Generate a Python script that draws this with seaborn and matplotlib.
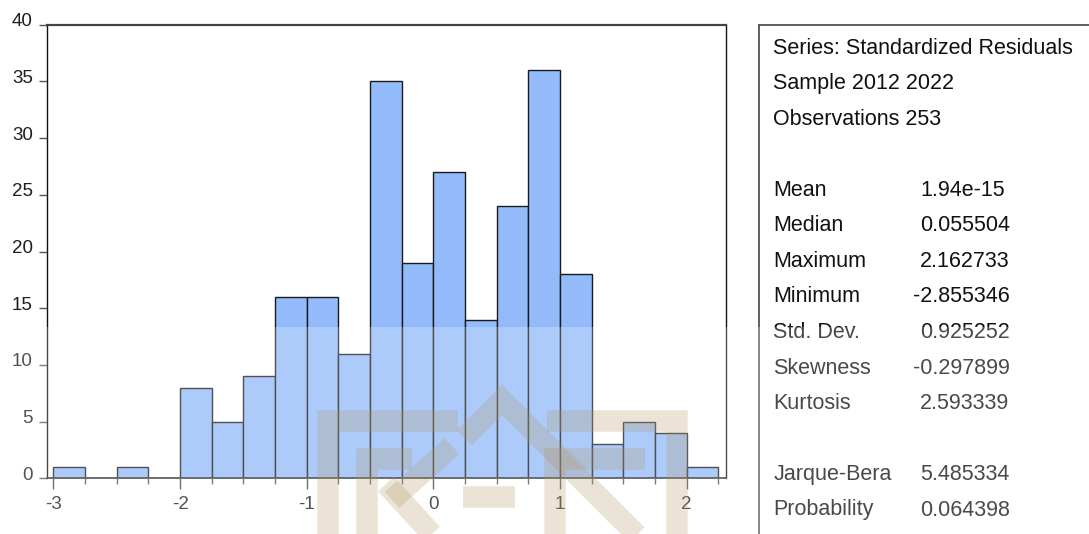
import numpy as np
import matplotlib
matplotlib.use("Agg")
import matplotlib.pyplot as plt
import seaborn as sns
from matplotlib.patches import Rectangle
from matplotlib.lines import Line2D
from matplotlib.transforms import Affine2D, ScaledTranslation

# ---------------- data ----------------
bin_edges = [-3.0, -2.75, -2.5, -2.25, -2.0, -1.75, -1.5, -1.25, -1.0, -0.75, -0.5,
             -0.25, 0.0, 0.25, 0.5, 0.75, 1.0, 1.25, 1.5, 1.75, 2.0, 2.25]
counts = [1, 0, 1, 0, 8, 5, 9, 16, 16, 11, 35, 19, 27, 14, 24, 36, 18, 3, 5, 4, 1]
y_ticks = [0, 5, 10, 15, 20, 25, 30, 35, 40]
x_ticks = [-3, -2, -1, 0, 1, 2]

header_lines = ["Series: Standardized Residuals", "Sample 2012 2022", "Observations 253"]
stat_names = ["Mean", "Median", "Maximum", "Minimum", "Std. Dev.", "Skewness", "Kurtosis"]
stat_values = ["1.94e-15", "0.055504", "2.162733", "-2.855346", "0.925252", "-0.297899", "2.593339"]
test_names = ["Jarque-Bera", "Probability"]
test_values = ["5.485334", "0.064398"]

# ---------------- figure ----------------
W, H = 1089, 534
sns.set_style("white")
plt.rcParams['font.family'] = ['Liberation Sans', 'DejaVu Sans']

fig = plt.figure(figsize=(W / 100, H / 100), dpi=100)
ax_l, ax_r, ax_t, ax_b = 46.7, 725.7, 24.7, 478.3
ax = fig.add_axes([ax_l / W, 1 - ax_b / H, (ax_r - ax_l) / W, (ax_b - ax_t) / H])

edges = np.array(bin_edges)
centers = (edges[:-1] + edges[1:]) / 2
sns.histplot(x=centers, weights=counts, bins=bin_edges, color="#93BBFB",
             edgecolor="#1a1a1a", linewidth=1.0, alpha=1.0, ax=ax)

ax.set_xlim(-3.053, 2.308)
ax.set_ylim(0, 40)
ax.set_xlabel("")
ax.set_ylabel("")
ax.set_yticks(y_ticks)
ax.set_yticklabels([str(v) for v in y_ticks])
ax.set_xticks(x_ticks)
ax.set_xticklabels([str(v) for v in x_ticks])
ax.set_xticks(bin_edges, minor=True)
ax.tick_params(axis="y", which="major", direction="out", length=6, width=1.0,
               color="#555555", labelsize=13.5, labelcolor="#1e1e1e", pad=4.0, left=True)
ax.tick_params(axis="x", which="major", direction="out", length=8, width=1.0,
               color="#444444", labelsize=13.5, labelcolor="#1e1e1e", pad=4.6, bottom=True)
ax.tick_params(axis="x", which="minor", direction="out", length=4.3, width=1.0,
               color="#555555", bottom=True)
for lab in ax.get_yticklabels():
    lab.set_transform(lab.get_transform() + ScaledTranslation(0, 5 / 100, fig.dpi_scale_trans))

for side, lw, col in [("left", 1.0, "#111111"), ("right", 1.0, "#111111"),
                      ("top", 1.6, "#444444"), ("bottom", 1.3, "#333333")]:
    ax.spines[side].set_visible(True)
    ax.spines[side].set_linewidth(lw)
    ax.spines[side].set_color(col)
ax.grid(False)

# pixel transform (image coords, y down)
pix = Affine2D().scale(1 / W, -1 / H).translate(0, 1) + fig.transFigure

# ---------------- statistics panel ----------------
fig.add_artist(Line2D([759.3, 759.3], [24.7, H], transform=pix, color="#444444", lw=1.2))
fig.add_artist(Line2D([759.3, W], [24.7, 24.7], transform=pix, color="#444444", lw=1.2))

row0, step = 48.5, 35.5
lab_x, val_x, neg_x = 773.3, 920, 913.3
fs = 15.5
for i, t in enumerate(header_lines):
    fig.text(lab_x / W, 1 - (row0 + i * step) / H, t, fontsize=fs, color="#111111",
             ha="left", va="center")
for j, (n, v) in enumerate(zip(stat_names, stat_values)):
    y = row0 + (4 + j) * step
    fig.text(lab_x / W, 1 - y / H, n, fontsize=fs, color="#111111", ha="left", va="center")
    fig.text((neg_x if v.startswith("-") else val_x) / W, 1 - y / H, v, fontsize=fs,
             color="#111111", ha="left", va="center")
for j, (n, v) in enumerate(zip(test_names, test_values)):
    y = row0 + (12 + j) * step
    fig.text(lab_x / W, 1 - y / H, n, fontsize=fs, color="#111111", ha="left", va="center")
    fig.text(val_x / W, 1 - y / H, v, fontsize=fs, color="#111111", ha="left", va="center")

# ---------------- watermark overlay ----------------
fig.add_artist(Rectangle((0, 326.7), W, H - 326.7, transform=pix, facecolor="white",
                         edgecolor="none", alpha=0.24, zorder=100))

logo_col = (178 / 255, 148 / 255, 92 / 255)
strokes = [
    [(328, 540), (328, 421), (458, 421)],
    [(464, 438), (502, 400), (640, 538)],
    [(547, 421), (677, 421), (677, 540)],
    [(367, 540), (367, 459), (412, 459)],
    [(392, 500), (452, 446)],
    [(386, 484), (432, 534)],
    [(463, 497), (515, 497)],
    [(555, 540), (555, 459), (645, 459)],
]
for s in strokes:
    xs = [p[0] for p in s]
    ys = [p[1] for p in s]
    fig.add_artist(Line2D(xs, ys, transform=pix, color=logo_col, lw=15.5, alpha=0.25,
                          solid_capstyle="butt", solid_joinstyle="miter", zorder=101))

fig.savefig("out.png", dpi=100)
